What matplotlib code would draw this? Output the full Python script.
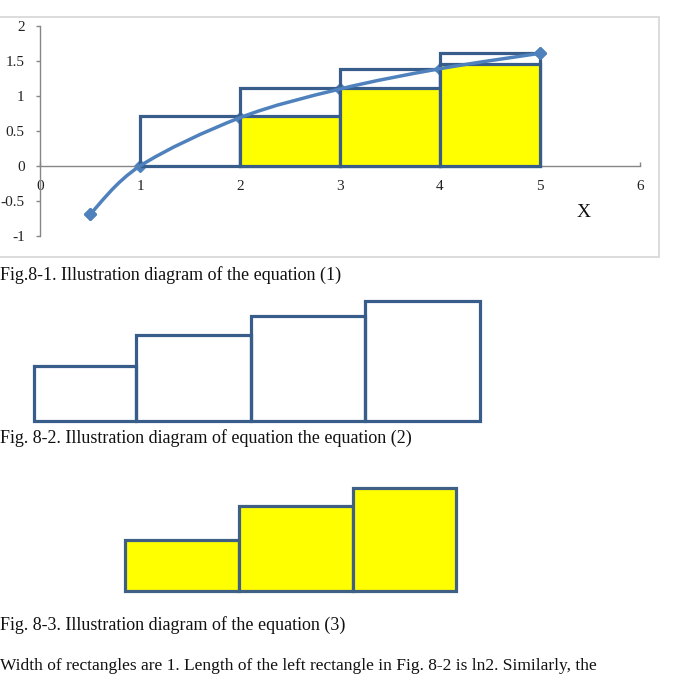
import numpy as np
import matplotlib
matplotlib.use("Agg")
import matplotlib.pyplot as plt
from matplotlib.patches import Rectangle, PathPatch
from matplotlib.path import Path

plt.rcParams['font.family'] = ['Liberation Serif', 'DejaVu Serif']

# ---------------- data ----------------
curve_x = [0.5, 1, 2, 3, 4, 5]
curve_y = [-0.69, 0.0, 0.69, 1.10, 1.39, 1.61]

upper_left = [1, 2, 3, 4]
upper_heights = [0.71, 1.12, 1.39, 1.62]

lower_left = [2, 3, 4]
lower_heights = [0.71, 1.12, 1.46]

x_ticks = [0, 1, 2, 3, 4, 5, 6]
x_tick_labels = ['0', '1', '2', '3', '4', '5', '6']
y_ticks = [-1, -0.5, 0, 0.5, 1, 1.5, 2]
y_tick_labels = ['-1', '-0.5', '0', '0.5', '1', '1.5', '2']

diag2_widths = [0.89, 1.0, 1.0, 1.0]
diag2_heights = [0.48, 0.75, 0.92, 1.05]

diag3_widths = [1.0, 1.0, 0.9]
diag3_heights = [0.45, 0.74, 0.90]

caption1 = "Fig.8-1. Illustration diagram of the equation (1)"
caption2 = "Fig. 8-2. Illustration diagram of equation the equation (2)"
caption3 = "Fig. 8-3. Illustration diagram of the equation (3)"
bottom_text = "Width of rectangles are 1. Length of the left rectangle in Fig. 8-2 is ln2. Similarly, the"

# ---------------- style ----------------
EDGE = '#385D8A'
EDGE3 = '#3F5F84'
YELLOW = '#FFFF00'
CURVE = '#4F81BD'
AXIS = '#868686'
TEXT = '#111111'

W, H = 674, 675
fig = plt.figure(figsize=(W / 100, H / 100), dpi=100)


def fx(px):
    return px / W


def fy(py):
    return 1 - py / H


# chart border
fig.add_artist(Rectangle((fx(-2), fy(257)), fx(659) - fx(-2), fy(17) - fy(257),
                         transform=fig.transFigure, fill=False,
                         edgecolor='#D9D9D9', lw=1.3))

# ---------------- main chart ----------------
ax = fig.add_axes([fx(40), fy(236), fx(640) - fx(40), fy(26) - fy(236)])
ax.set_xlim(0, 6)
ax.set_ylim(-1, 2)
ax.patch.set_alpha(0)

# interior markers sit beneath the rectangle outlines
ax.plot(curve_x, curve_y, linestyle='none', marker='D', ms=6.5,
        color=CURVE, zorder=2, clip_on=False)

ax.bar(upper_left, upper_heights, width=1, align='edge', fill=False,
       edgecolor=EDGE, lw=2.3, zorder=3)
ax.bar(lower_left, lower_heights, width=1, align='edge', color=YELLOW,
       edgecolor=EDGE, lw=2.3, zorder=4)

# smoothed line (Catmull-Rom style Bezier through the data points)
pts = np.column_stack([curve_x, curve_y]).astype(float)
ext = np.vstack([pts[0], pts, pts[-1]])
verts = [tuple(pts[0])]
codes = [Path.MOVETO]
for i in range(len(pts) - 1):
    p0, p1, p2, p3 = ext[i], ext[i + 1], ext[i + 2], ext[i + 3]
    c1 = p1 + (p2 - p0) / 6.0
    c2 = p2 - (p3 - p1) / 6.0
    verts += [tuple(c1), tuple(c2), tuple(p2)]
    codes += [Path.CURVE4] * 3
ax.add_patch(PathPatch(Path(verts, codes), fill=False, edgecolor=CURVE,
                       lw=2.5, zorder=5, capstyle='round'))
ax.plot(curve_x, curve_y, linestyle='none', marker='D', ms=6.5,
        markevery=[0, len(curve_x) - 1], color=CURVE, zorder=6, clip_on=False)

for s in ['top', 'right']:
    ax.spines[s].set_visible(False)
ax.spines['bottom'].set_position(('data', 0))
ax.spines['left'].set_color(AXIS)
ax.spines['bottom'].set_color(AXIS)
ax.spines['left'].set_linewidth(1.0)
ax.spines['bottom'].set_linewidth(1.0)

ax.set_xticks(x_ticks)
ax.set_xticklabels(x_tick_labels)
ax.set_yticks(y_ticks)
ax.set_yticklabels(y_tick_labels)
ax.tick_params(axis='x', direction='in', length=3, width=1, color=AXIS,
               pad=10, labelsize=11, labelcolor='#222222')
ax.tick_params(axis='y', direction='out', length=3, width=1, color=AXIS,
               pad=8, labelsize=11, labelcolor='#222222')

ax.text(5.44, -0.67, 'X', fontsize=14, ha='center', va='center', color=TEXT)

# ---------------- captions ----------------
fig.text(fx(0), fy(275), caption1, fontsize=13, ha='left', va='center', color=TEXT)
fig.text(fx(0), fy(438), caption2, fontsize=13, ha='left', va='center', color=TEXT)
fig.text(fx(0), fy(625), caption3, fontsize=13, ha='left', va='center', color=TEXT)
fig.text(fx(0), fy(674), bottom_text, fontsize=12.5, ha='left', va='bottom', color=TEXT)

# ---------------- diagram 2 (outlines) ----------------
ax2 = fig.add_axes([fx(34), fy(421), fx(480) - fx(34), fy(301) - fy(421)])
left2 = np.concatenate([[0], np.cumsum(diag2_widths)[:-1]])
ax2.bar(left2, diag2_heights, width=diag2_widths, align='edge', fill=False,
        edgecolor=EDGE, lw=2.3, clip_on=False)
ax2.set_xlim(0, sum(diag2_widths))
ax2.set_ylim(0, max(diag2_heights))
ax2.axis('off')

# ---------------- diagram 3 (yellow) ----------------
ax3 = fig.add_axes([fx(125), fy(591), fx(456) - fx(125), fy(488) - fy(591)])
left3 = np.concatenate([[0], np.cumsum(diag3_widths)[:-1]])
ax3.bar(left3, diag3_heights, width=diag3_widths, align='edge', color=YELLOW,
        edgecolor=EDGE3, lw=2.3, clip_on=False)
ax3.set_xlim(0, sum(diag3_widths))
ax3.set_ylim(0, max(diag3_heights))
ax3.axis('off')

fig.savefig('out.png', dpi=100)
